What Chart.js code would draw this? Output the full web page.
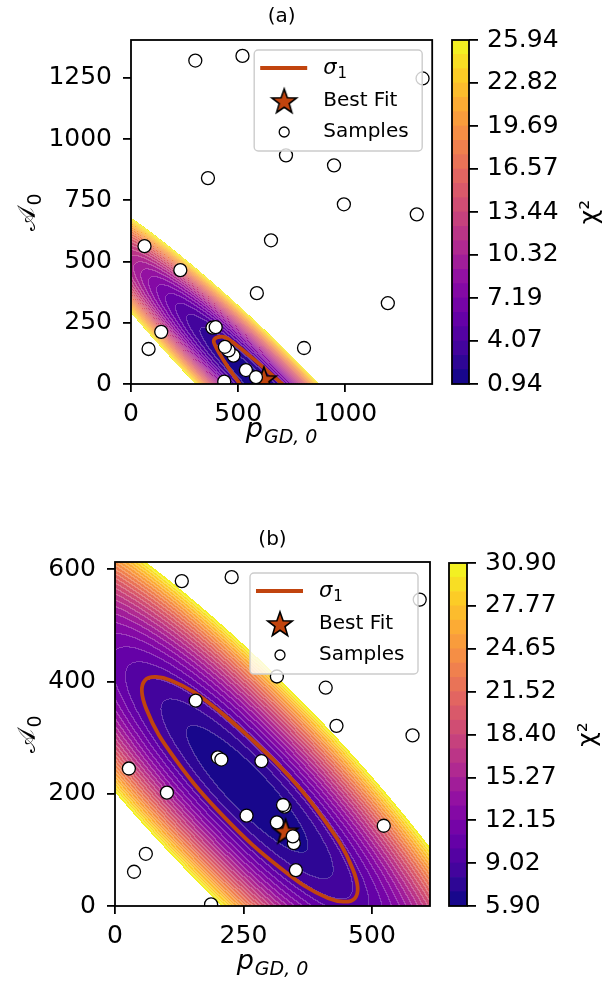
<!DOCTYPE html>
<html>
<head>
<meta charset="utf-8">
<script src="https://cdn.jsdelivr.net/npm/chart.js@4.4.1/dist/chart.umd.min.js"></script>
<style>
  body { margin: 0; background: #fff; width: 603px; height: 990px; position: relative; overflow: hidden; }
  canvas { position: absolute; }
</style>
</head>
<body>
<canvas id="mainA" style="left:0;top:0" width="440" height="460"></canvas>
<canvas id="barA" style="left:440px;top:0" width="163" height="460"></canvas>
<canvas id="mainB" style="left:0;top:520px" width="440" height="470"></canvas>
<canvas id="barB" style="left:440px;top:520px" width="163" height="470"></canvas>
<script>
// ---- panel (a) ----
const samplesAx = [300, 520, 359, 723, 947, 993, 1333, 1360, 1198, 807, 63, 230, 141, 82, 380, 395, 653, 587, 478, 455, 438, 536, 435, 583];
const samplesAy = [1321, 1340, 841, 934, 893, 734, 693, 1248, 330, 147, 563, 465, 213, 143, 230, 232, 587, 371, 116, 137, 152, 57, 10, 28];
const bestA = [620, 20];
const sigmaAx = [522, 508, 488, 450, 413, 391, 386, 396, 416, 440, 490, 550, 620, 700, 725];
const sigmaAy = [-16, 0, 25, 72, 124, 160, 177, 188, 193, 190, 160, 118, 66, 4, -15];
const xTicksA = [0, 500, 1000];
const yTicksA = [0, 250, 500, 750, 1000, 1250];
const rangeA = [0, 1405];
const cbTicksA = [0.94, 4.07, 7.19, 10.32, 13.44, 16.57, 19.69, 22.82, 25.94];
// chi2 valley: centre, along-valley direction, curvature (across, along)
const valleyA = { center: [600, -9], dir: [0.759, -0.651], curv: [6.8e-4, 1.6e-5] };

// ---- panel (b) ----
const samplesBx = [130, 227, 593, 315, 410, 431, 579, 157, 27, 101, 37, 60, 187, 200, 207, 285, 256, 330, 327, 315, 348, 352, 523, 346];
const samplesBy = [579, 586, 546, 409, 389, 321, 304, 366, 245, 202, 61, 93, 3, 265, 261, 258, 161, 177, 180, 149, 112, 64, 143, 124];
const bestB = [332, 133];
const sigmaBx = [310, 201, 109, 58, 61, 118, 214, 323, 415, 467, 463, 406, 310, 201];
const sigmaBy = [259, 349, 402, 402, 351, 261, 157, 67, 14, 14, 65, 155, 259, 349];
const xTicksB = [0, 250, 500];
const yTicksB = [0, 200, 400, 600];
const rangeB = [0, 613];
const cbTicksB = [5.90, 9.02, 12.15, 15.27, 18.40, 21.52, 24.65, 27.77, 30.90];
const valleyB = { center: [258, 208], dir: [0.725, -0.689], curv: [7.15e-4, 4.1e-5] };

const BANDS = 24;
const ORANGE = "#c1440e";
const FONT = "DejaVu Sans";

Chart.defaults.font.family = FONT;
Chart.defaults.color = "#000";

const plasmaStops = ["#0d0887", "#41049d", "#6a00a8", "#8f0da4", "#b12a90", "#cc4778",
  "#e16462", "#f2844b", "#fca636", "#fcce25", "#f0f921"];
const hexRgb = (h) => [1, 3, 5].map((i) => parseInt(h.slice(i, i + 2), 16));
function plasma(t) {
  const p = Math.min(Math.max(t, 0), 1) * (plasmaStops.length - 1);
  const i = Math.min(Math.floor(p), plasmaStops.length - 2);
  const f = p - i, a = hexRgb(plasmaStops[i]), b = hexRgb(plasmaStops[i + 1]);
  return a.map((v, k) => Math.round(v + (b[k] - v) * f));
}
const rgb = (c) => `rgb(${c[0]},${c[1]},${c[2]})`;

function makeStar(rOut, rIn) {
  const c = document.createElement("canvas");
  const s = Math.ceil(rOut * 2 + 4);
  c.width = s; c.height = s;
  const g = c.getContext("2d");
  g.beginPath();
  for (let i = 0; i < 10; i++) {
    const r = i % 2 ? rIn : rOut, ang = -Math.PI / 2 + (i * Math.PI) / 5;
    g.lineTo(s / 2 + r * Math.cos(ang), s / 2 + 1 + r * Math.sin(ang));
  }
  g.closePath();
  g.fillStyle = ORANGE; g.fill();
  g.lineWidth = 1.6; g.strokeStyle = "#000"; g.stroke();
  return c;
}
const starImg = makeStar(13, 5.3);

// filled chi2 contours under the datasets
const heatPlugin = {
  id: "heat",
  beforeDatasetsDraw(chart, args, o) {
    if (!o.valley) return;
    const { ctx, chartArea: a, scales } = chart;
    const dpr = chart.currentDevicePixelRatio || 1;
    const w = Math.round(a.width * dpr), h = Math.round(a.height * dpr);
    const xs = [], ys = [];
    for (let i = 0; i < w; i++) xs.push(scales.x.getValueForPixel(a.left + (i + 0.5) / dpr));
    for (let j = 0; j < h; j++) ys.push(scales.y.getValueForPixel(a.top + (j + 0.5) / dpr));
    const [cx, cy] = o.valley.center, [ux, uy] = o.valley.dir, [kp, ka] = o.valley.curv;
    const lo = o.range[0], hi = o.range[o.range.length - 1];
    const idx = new Int16Array(w * h);
    for (let j = 0; j < h; j++) for (let i = 0; i < w; i++) {
      const dx = xs[i] - cx, dy = ys[j] - cy;
      const al = dx * ux + dy * uy, pe = -dx * uy + dy * ux;
      const chi = lo + kp * pe * pe + ka * al * al;
      const k = Math.floor(((chi - lo) / (hi - lo)) * BANDS);
      idx[j * w + i] = k >= BANDS ? -1 : k;
    }
    const cols = [];
    for (let k = 0; k < BANDS; k++) cols.push(plasma((k + 0.5) / BANDS));
    const off = document.createElement("canvas");
    off.width = w; off.height = h;
    const octx = off.getContext("2d");
    const img = octx.createImageData(w, h);
    for (let j = 0; j < h; j++) for (let i = 0; i < w; i++) {
      const p = j * w + i, k = idx[p];
      if (k < 0) continue;
      let c = cols[k];
      const kr = i + 1 < w ? idx[p + 1] : k, kd = j + 1 < h ? idx[p + w] : k;
      if ((kr >= 0 && kr !== k) || (kd >= 0 && kd !== k)) c = c.map((v) => v + (255 - v) * 0.22);
      img.data[p * 4] = c[0]; img.data[p * 4 + 1] = c[1]; img.data[p * 4 + 2] = c[2]; img.data[p * 4 + 3] = 255;
    }
    octx.putImageData(img, 0, 0);
    ctx.drawImage(off, a.left, a.top, a.width, a.height);
  },
};

const framePlugin = {
  id: "frame",
  afterDatasetsDraw(chart) {
    const { ctx, chartArea: a } = chart;
    ctx.save();
    ctx.lineWidth = 1.8; ctx.strokeStyle = "#000";
    ctx.strokeRect(a.left, a.top, a.width, a.height);
    ctx.restore();
  },
};

const legendPlugin = {
  id: "boxLegend",
  afterDraw(chart, args, o) {
    if (!o.show) return;
    const { ctx, chartArea: a } = chart;
    const bw = 168, bh = 101;
    const x0 = a.right - o.inset[0] - bw, y0 = a.top + o.inset[1];
    ctx.save();
    ctx.beginPath();
    ctx.roundRect(x0, y0, bw, bh, 4);
    ctx.fillStyle = "rgba(255,255,255,0.8)"; ctx.fill();
    ctx.lineWidth = 1.4; ctx.strokeStyle = "#cccccc"; ctx.stroke();
    const rows = [18, 51, 82];
    const ds = chart.data.datasets;
    // line
    ctx.beginPath(); ctx.moveTo(x0 + 6, y0 + rows[0]); ctx.lineTo(x0 + 53, y0 + rows[0]);
    ctx.lineWidth = 3.8; ctx.strokeStyle = ORANGE; ctx.stroke();
    // star
    ctx.drawImage(starImg, x0 + 30 - starImg.width / 2, y0 + rows[1] - starImg.height / 2);
    // circle
    ctx.beginPath(); ctx.arc(x0 + 30, y0 + rows[2], 5, 0, Math.PI * 2);
    ctx.fillStyle = "#fff"; ctx.fill(); ctx.lineWidth = 1.3; ctx.strokeStyle = "#000"; ctx.stroke();
    ctx.fillStyle = "#000"; ctx.textAlign = "left";
    ds.forEach((d, i) => {
      const x = x0 + 69, y = y0 + rows[i];
      if (d.label === "σ₁") {
        ctx.textBaseline = "alphabetic";
        ctx.font = `italic 21px "${FONT}"`;
        ctx.fillText("σ", x, y + 6);
        const w = ctx.measureText("σ").width;
        ctx.font = `15px "${FONT}"`;
        ctx.fillText("1", x + w + 1, y + 10);
      } else {
        ctx.textBaseline = "middle";
        ctx.font = `20px "${FONT}"`;
        ctx.fillText(d.label, x, y);
      }
    });
    ctx.restore();
  },
};

const textPlugin = {
  id: "panelText",
  afterDraw(chart, args, o) {
    const { ctx, chartArea: a } = chart;
    ctx.save();
    ctx.fillStyle = "#000";
    const drawSub = (parts, cx, cy, big, small, drop) => {
      ctx.textAlign = "left"; ctx.textBaseline = "alphabetic";
      ctx.font = big; const w1 = ctx.measureText(parts[0]).width;
      ctx.font = small; const w2 = ctx.measureText(parts[1]).width;
      const x = cx - (w1 + w2 + 1) / 2;
      ctx.font = big; ctx.fillText(parts[0], x, cy);
      ctx.font = small; ctx.fillText(parts[1], x + w1 + 1, cy + drop);
    };
    if (o.title) {
      ctx.font = `20px "${FONT}"`; ctx.textAlign = "center"; ctx.textBaseline = "middle";
      ctx.fillText(o.title, (a.left + a.right) / 2, o.titleY);
    }
    if (o.xTitle) drawSub(o.xTitle, (a.left + a.right) / 2, o.xTitleY,
      `italic 27px "${FONT}"`, `italic 19px "${FONT}"`, 6);
    if (o.yTitle) {
      ctx.save();
      ctx.translate(o.yTitleX, (a.top + a.bottom) / 2);
      ctx.rotate(-Math.PI / 2);
      drawSub(o.yTitle, 0, 0, `25px "DejaVu Serif", "${FONT}"`, `19px "${FONT}"`, 6);
      ctx.restore();
    }
    if (o.cbTitle) {
      ctx.save();
      ctx.translate(o.cbTitleX, (a.top + a.bottom) / 2);
      ctx.rotate(-Math.PI / 2);
      ctx.font = `25px "${FONT}"`; ctx.textAlign = "center"; ctx.textBaseline = "middle";
      ctx.fillText(o.cbTitle, 0, 0);
      ctx.restore();
    }
    ctx.restore();
  },
};

const toPoints = (xs, ys) => xs.map((x, i) => ({ x, y: ys[i] }));

function makePanel(id, d) {
  new Chart(document.getElementById(id), {
    type: "scatter",
    data: {
      datasets: [
        {
          label: "σ₁",
          data: toPoints(d.sigmaX, d.sigmaY),
          showLine: true,
          pointRadius: 0,
          borderColor: ORANGE,
          borderWidth: 3.8,
          tension: 0.4,
          fill: false,
          clip: 0,
          order: 2,
        },
        {
          label: "Best Fit",
          data: [{ x: d.best[0], y: d.best[1] }],
          pointStyle: starImg,
          clip: 0,
          order: 1,
        },
        {
          label: "Samples",
          data: toPoints(d.sx, d.sy),
          pointRadius: 6.5,
          pointBackgroundColor: "#fff",
          pointBorderColor: "#000",
          pointBorderWidth: 1.3,
          clip: 0,
          order: 0,
        },
      ],
    },
    options: {
      responsive: false,
      animation: false,
      events: [],
      layout: { padding: d.padding },
      scales: {
        x: {
          min: d.range[0],
          max: d.range[1],
          afterBuildTicks: (s) => { s.ticks = d.xTicks.map((value) => ({ value })); },
          afterFit: (s) => { s.height = d.xAxisH; },
          ticks: { font: { size: 25 }, padding: 7, autoSkip: false, maxRotation: 0, callback: (v) => String(v) },
          grid: { drawOnChartArea: false, tickLength: 8, color: "#000", lineWidth: 1.8 },
          border: { display: false },
        },
        y: {
          min: d.range[0],
          max: d.range[1],
          afterBuildTicks: (s) => { s.ticks = d.yTicks.map((value) => ({ value })); },
          afterFit: (s) => { s.width = d.yAxisW; },
          ticks: { font: { size: 25 }, padding: 11, autoSkip: false, callback: (v) => String(v) },
          grid: { drawOnChartArea: false, tickLength: 8, color: "#000", lineWidth: 1.8 },
          border: { display: false },
        },
      },
      plugins: {
        legend: { display: false },
        tooltip: { enabled: false },
        heat: { valley: d.valley, range: d.cbTicks },
        boxLegend: { show: true, inset: d.legendInset },
        panelText: {
          title: d.title, titleY: d.titleY,
          xTitle: ["p", "GD, 0"], xTitleY: d.xTitleY,
          yTitle: ["𝒜", "0"], yTitleX: 35,
        },
      },
    },
    plugins: [heatPlugin, framePlugin, legendPlugin, textPlugin],
  });
}

function makeColorbar(id, ticks, d) {
  const lo = ticks[0], hi = ticks[ticks.length - 1], step = (hi - lo) / BANDS;
  const datasets = [];
  for (let k = 0; k < BANDS; k++) {
    datasets.push({
      data: [[lo + k * step, lo + (k + 1) * step]],
      backgroundColor: rgb(plasma((k + 0.5) / BANDS)),
      borderWidth: 0,
      barPercentage: 1,
      categoryPercentage: 1,
    });
  }
  new Chart(document.getElementById(id), {
    type: "bar",
    data: { labels: ["χ²"], datasets },
    options: {
      responsive: false,
      animation: false,
      events: [],
      layout: { padding: d.padding },
      scales: {
        x: { display: false, stacked: true },
        y: {
          position: "right",
          min: lo,
          max: hi,
          afterBuildTicks: (s) => { s.ticks = ticks.map((value) => ({ value })); },
          afterFit: (s) => { s.width = d.axisW; },
          ticks: { font: { size: 25 }, padding: 9, autoSkip: false, callback: (v) => Number(v).toFixed(2) },
          grid: { drawOnChartArea: false, tickLength: 9, color: "#000", lineWidth: 1.8 },
          border: { display: false },
        },
      },
      plugins: {
        legend: { display: false },
        tooltip: { enabled: false },
        panelText: { cbTitle: "χ²", cbTitleX: d.titleX },
      },
    },
    plugins: [framePlugin, textPlugin],
  });
}

makePanel("mainA", {
  sx: samplesAx, sy: samplesAy, best: bestA, sigmaX: sigmaAx, sigmaY: sigmaAy,
  xTicks: xTicksA, yTicks: yTicksA, range: rangeA, cbTicks: cbTicksA, valley: valleyA,
  padding: { top: 40, right: 7, left: 0, bottom: 0 }, xAxisH: 76, yAxisW: 131,
  legendInset: [10, 10], title: "(a)", titleY: 17, xTitleY: 437,
});
makeColorbar("barA", cbTicksA, { padding: { top: 40, left: 12, right: 0, bottom: 76 }, axisW: 134, titleX: 150 });

makePanel("mainB", {
  sx: samplesBx, sy: samplesBy, best: bestB, sigmaX: sigmaBx, sigmaY: sigmaBy,
  xTicks: xTicksB, yTicks: yTicksB, range: rangeB, cbTicks: cbTicksB, valley: valleyB,
  padding: { top: 42, right: 10, left: 0, bottom: 0 }, xAxisH: 84, yAxisW: 115,
  legendInset: [12, 11], title: "(b)", titleY: 20, xTitleY: 449,
});
makeColorbar("barB", cbTicksB, { padding: { top: 43, left: 9, right: 0, bottom: 84 }, axisW: 136, titleX: 148 });
</script>
</body>
</html>
